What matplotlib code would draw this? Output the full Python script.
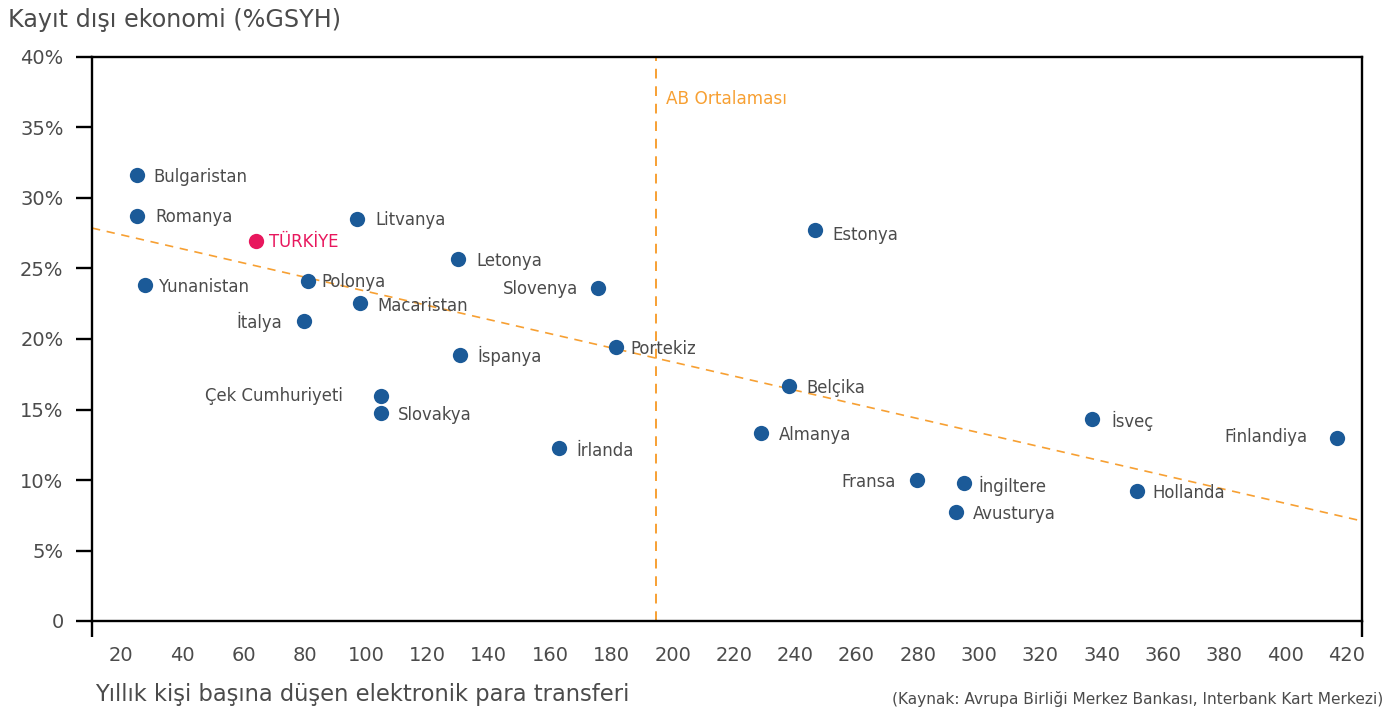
import matplotlib
matplotlib.use("Agg")
import matplotlib.pyplot as plt

plt.rcParams['font.family'] = ['DejaVu Sans']

countries = ["Bulgaristan", "Romanya", "Yunanistan", "TÜRKİYE", "Polonya", "İtalya",
             "Litvanya", "Macaristan", "Çek Cumhuriyeti", "Slovakya", "Letonya", "İspanya",
             "İrlanda", "Slovenya", "Portekiz", "Estonya", "Belçika", "Almanya",
             "Fransa", "İngiltere", "Avusturya", "İsveç", "Hollanda", "Finlandiya"]
transfers = [25.2, 25.2, 27.8, 64.1, 81.1, 79.7,
             97.0, 98.0, 104.9, 104.9, 130.0, 130.7,
             163.0, 175.7, 181.6, 246.6, 238.1, 228.9,
             279.9, 295.2, 292.6, 337.0, 351.7, 416.7]
informal = [31.6, 28.7, 23.8, 26.95, 24.1, 21.3,
            28.5, 22.55, 15.96, 14.75, 25.7, 18.9,
            12.3, 23.6, 19.4, 27.7, 16.7, 13.3,
            10.0, 9.8, 7.7, 14.3, 9.2, 13.0]

eu_average = 194.7
trend_x = [10.5, 425.0]
trend_y = [27.87, 7.09]

x_ticks = list(range(20, 421, 20))
y_ticks = [0, 5, 10, 15, 20, 25, 30, 35, 40]
y_ticklabels = ["0", "5%", "10%", "15%", "20%", "25%", "30%", "35%", "40%"]

# label placement (pixels): dx (negative = left of point), dy (positive = down)
label_offset = {
    "Bulgaristan": (16, 0), "Romanya": (18, -1), "Yunanistan": (14, 0), "TÜRKİYE": (13, -1),
    "Polonya": (13, -1), "İtalya": (-22, -1), "Litvanya": (18, -1), "Macaristan": (17, 1),
    "Çek Cumhuriyeti": (-38, -2), "Slovakya": (17, 0), "Letonya": (18, 0), "İspanya": (17, -1),
    "İrlanda": (17, 1), "Slovenya": (-20, -1), "Portekiz": (14, 0), "Estonya": (17, 3),
    "Belçika": (17, 0), "Almanya": (18, 0), "Fransa": (-22, 0), "İngiltere": (14, 1),
    "Avusturya": (17, 0), "İsveç": (19, 0), "Hollanda": (15, 0), "Finlandiya": (-29, -3),
}

blue = "#1b5a98"
pink = "#e8175d"
orange = "#f7a033"
gray = "#4b4b4b"

fig = plt.figure(figsize=(13.87, 7.16), dpi=100)
ax = fig.add_axes([92/1387, 95/716, (1362-92)/1387, (621-57)/716])
ax.set_xlim(10.5, 425)
ax.set_ylim(0, 40)

ax.plot(trend_x, trend_y, color=orange, lw=1.2, ls=(0, (5, 4)), zorder=1)
ax.axvline(eu_average, color=orange, lw=1.4, ls=(0, (5, 4)), zorder=1)
ax.text(eu_average + 3, 37.05, "AB Ortalaması", color=orange, fontsize=12.2,
        va="center", ha="left")

for name, xv, yv in zip(countries, transfers, informal):
    c = pink if name == "TÜRKİYE" else blue
    ax.plot(xv, yv, "o", ms=11, color=c, mew=0, zorder=3)
    dx, dy = label_offset[name]
    ax.annotate(name, (xv, yv), xytext=(dx, -dy), textcoords="offset pixels",
                ha=("right" if dx < 0 else "left"), va="center_baseline", fontsize=11.9,
                color=(pink if name == "TÜRKİYE" else gray))

for s in ax.spines.values():
    s.set_linewidth(1.7)
    s.set_color("black")

ax.set_yticks(y_ticks)
ax.set_yticklabels(y_ticklabels)
ax.tick_params(axis="y", length=11.5, width=1.7, pad=9, labelsize=14, labelcolor=gray)
ax.set_xticks(x_ticks)
ax.tick_params(axis="x", which="major", length=0, pad=18, labelsize=14, labelcolor=gray)
ax.set_xticks([10.5, 425], minor=True)
ax.tick_params(axis="x", which="minor", length=11.5, width=1.7, direction="out")

fig.text(8/1387, 1 - 20/716, "Kayıt dışı ekonomi (%GSYH)", fontsize=17.2, color=gray,
         ha="left", va="center")
fig.text(95/1387, 1 - 695/716, "Yıllık kişi başına düşen elektronik para transferi",
         fontsize=16.3, color=gray, ha="left", va="center")
fig.text(1383/1387, 1 - 699/716, "(Kaynak: Avrupa Birliği Merkez Bankası, Interbank Kart Merkezi)",
         fontsize=11.1, color=gray, ha="right", va="center")

fig.savefig("out.png", dpi=100)
